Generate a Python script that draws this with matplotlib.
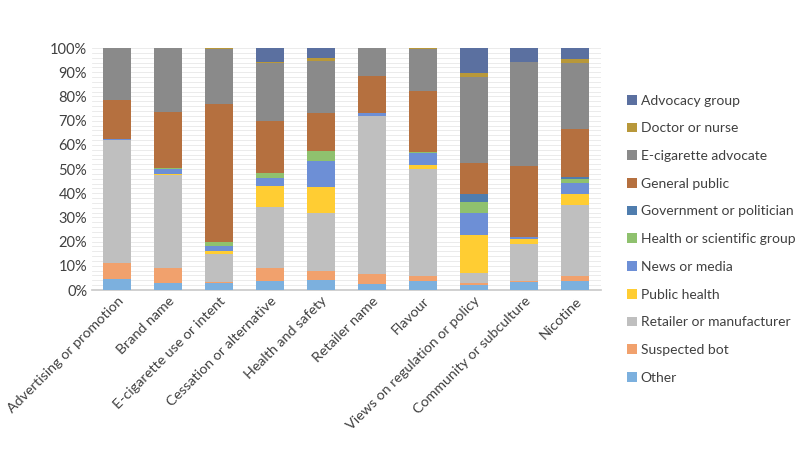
import matplotlib.pyplot as plt
import numpy as np
from matplotlib.ticker import MultipleLocator, FuncFormatter
from matplotlib.patches import Patch

plt.rcParams['font.family'] = ['Lato', 'DejaVu Sans']

categories = [
    'Advertising or promotion', 'Brand name', 'E-cigarette use or intent',
    'Cessation or alternative', 'Health and safety', 'Retailer name',
    'Flavour', 'Views on regulation or policy', 'Community or subculture',
    'Nicotine',
]

# stacked from the bottom (Other) to the top (Advocacy group), percent
other      = [4.6, 3.1, 2.8, 3.9, 4.2, 2.6, 3.75, 2.2, 3.3, 3.75]
bot        = [6.6, 5.8, 0.5, 5.3, 3.7, 4.1, 1.95, 0.6, 0.6, 2.05]
retailer   = [50.9, 38.7, 11.7, 25.2, 23.9, 65.4, 44.3, 4.1, 15.0, 29.2]
pub_health = [0.0, 0.5, 1.0, 8.4, 10.7, 0.0, 1.7, 15.7, 2.35, 4.6]
news       = [0.3, 1.9, 2.3, 3.7, 11.0, 1.1, 5.0, 9.3, 0.7, 4.6]
health     = [0.0, 0.4, 1.6, 1.8, 3.9, 0.0, 0.5, 4.3, 0.0, 1.8]
government = [0.0, 0.0, 0.0, 0.0, 0.0, 0.0, 0.0, 3.35, 0.0, 0.9]
gen_public = [16.2, 23.1, 56.8, 21.6, 15.7, 15.1, 25.0, 12.9, 29.5, 19.7]
ecig       = [21.4, 26.5, 22.9, 24.0, 21.6, 11.7, 17.3, 35.4, 42.8, 27.2]
doctor     = [0.0, 0.0, 0.4, 0.5, 1.3, 0.0, 0.5, 1.7, 0.0, 1.7]
advocacy   = [0.0, 0.0, 0.0, 5.6, 4.0, 0.0, 0.0, 10.4, 5.8, 4.4]

series = [
    ('Other', other, '#7cb0de'),
    ('Suspected bot', bot, '#f1a16d'),
    ('Retailer or manufacturer', retailer, '#bfbfbf'),
    ('Public health', pub_health, '#ffcd33'),
    ('News or media', news, '#6d8fd6'),
    ('Health or scientific group', health, '#8fc16e'),
    ('Government or politician', government, '#4f7dae'),
    ('General public', gen_public, '#b5703f'),
    ('E-cigarette advocate', ecig, '#8a8a8a'),
    ('Doctor or nurse', doctor, '#b8983a'),
    ('Advocacy group', advocacy, '#5b70a0'),
]

fig = plt.figure(figsize=(8, 4.67), dpi=100)
ax = fig.add_axes([0.115, 0.379, 0.636, 0.518])

x = np.arange(len(categories))
bottom = np.zeros(len(categories))
for name, vals, col in series:
    vals = np.array(vals)
    ax.bar(x, vals, 0.55, bottom=bottom, color=col, label=name, zorder=3)
    bottom += vals

ax.set_xlim(-0.5, len(categories) - 0.5)
ax.set_ylim(0, 100)
ax.yaxis.set_major_locator(MultipleLocator(10))
ax.yaxis.set_minor_locator(MultipleLocator(2))
ax.yaxis.set_major_formatter(FuncFormatter(lambda v, p: f'{int(v)}%'))
ax.grid(axis='y', which='both', color='#e8e8e8', linewidth=0.6, zorder=0)
ax.tick_params(axis='both', length=0, labelsize=10.5, colors='#404040')
ax.tick_params(axis='y', which='minor', length=0)
for s in ['top', 'right', 'left']:
    ax.spines[s].set_visible(False)
ax.spines['bottom'].set_color('#c8c8c8')
ax.spines['bottom'].set_linewidth(1.2)

ax.set_xticks(x)
ax.set_xticklabels(categories, rotation=45, ha='right', va='top',
                   rotation_mode='anchor', fontsize=10.3, color='#404040')

handles = [Patch(facecolor=col, label=name) for name, vals, col in series[::-1]]
fig.legend(handles=handles, loc='upper left', bbox_to_anchor=(0.768, 0.824),
           frameon=False, fontsize=10, labelspacing=1.13,
           handlelength=0.7, handleheight=0.7, handletextpad=0.3,
           labelcolor='#404040')

fig.savefig('out.png', dpi=100)
